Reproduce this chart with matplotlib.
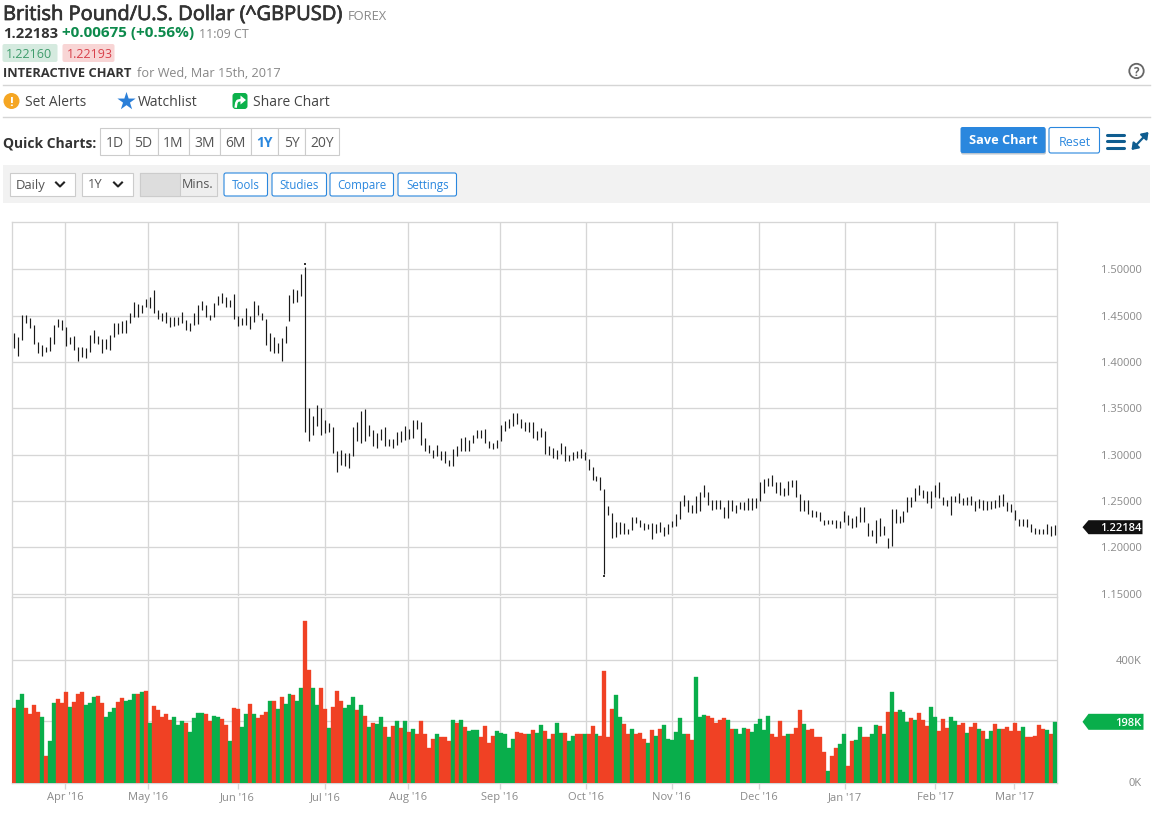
import matplotlib
matplotlib.use("Agg")
import matplotlib.pyplot as plt
from matplotlib.patches import Rectangle, FancyBboxPatch, Circle, Polygon, FancyArrowPatch
import matplotlib.patheffects as pe
import numpy as np

plt.rcParams["font.family"] = "Open Sans"

# ---------- data ----------
highs = [
1.431,1.4275,1.4505,1.451,1.447,1.440,1.422,1.4185,1.4167,1.4275,1.4404,1.4462,1.4454,1.4375,1.4275,1.4282,1.4167,1.416,1.4149,1.4289,
1.4347,1.4282,1.4253,1.4253,1.4289,1.4418,1.4418,1.444,1.4454,1.4526,1.4645,1.4627,1.4612,1.4677,1.4699,1.4777,1.4562,1.4526,1.4544,1.4483,
1.4483,1.4483,1.4541,1.4454,1.4418,1.4526,1.4616,1.4663,1.4616,1.4508,1.4641,1.4713,1.4742,1.4699,1.467,1.4734,1.4497,1.4472,1.4584,1.4497,
1.4655,1.4612,1.4526,1.4469,1.4311,1.4268,1.421,1.4261,1.439,1.4724,1.4785,1.4777,1.495,1.5028,
1.3503,1.342,1.3539,1.3503,1.3377,1.3341,1.3298,1.3036,1.3047,1.3018,1.3018,1.3295,1.3348,1.3467,1.3492,1.3323,1.3269,1.3234,1.3277,1.3295,
1.3169,1.3169,1.3241,1.3252,1.3305,1.3277,1.337,1.337,1.3348,1.318,1.3101,1.3047,1.3101,1.3036,1.3036,1.2946,1.3061,1.309,1.318,1.3191,
1.3162,1.3216,1.3269,1.3269,1.3277,1.3144,1.3126,1.3155,1.3323,1.3359,1.3384,1.3449,1.3449,1.3384,1.3348,1.3348,1.3348,1.3252,1.3287,1.3252,
1.309,1.3072,1.3054,1.3126,1.3097,1.3,1.3025,1.3036,1.3061,1.3025,1.2954,1.2867,1.2774,1.276,1.263,
1.2451,1.2372,1.2279,1.2279,1.2264,1.22,1.2329,1.2326,1.23,1.2264,1.2257,1.2264,1.2257,1.2279,1.2221,1.2257,1.2282,1.2365,1.2505,1.2566,
1.2509,1.2455,1.2559,1.2595,1.2674,1.2602,1.2516,1.2516,1.2509,1.2437,1.2509,1.2516,1.2462,1.2487,1.2494,1.2534,1.2534,1.2534,1.2702,1.2738,
1.2749,1.2781,1.2702,1.2702,1.2638,1.2713,1.2731,1.2731,1.2577,1.2509,1.2509,1.2408,1.2397,1.2387,1.23,1.23,1.23,1.23,1.2282,1.2394,
1.2354,1.2315,1.2343,1.2437,1.2437,1.2264,1.2193,1.23,1.2318,1.2236,1.2099,1.2419,1.2419,1.2343,1.239,1.2545,1.2545,1.2641,1.2677,1.2623,
1.2606,1.2606,1.2677,1.2702,1.2545,1.2516,1.2552,1.2559,1.2588,1.2534,1.2545,1.2559,1.2498,1.2523,1.2509,1.2498,1.2498,1.2516,1.257,1.258,
1.2487,1.2473,1.2408,1.2311,1.2311,1.2311,1.2257,1.2214,1.22,1.22,1.2257,1.2236,1.2247]
lows = [
1.415,1.406,1.424,1.442,1.4365,1.4195,1.4095,1.406,1.4113,1.4124,1.4196,1.4375,1.4347,1.4174,1.4196,1.4131,1.4016,1.4052,1.4049,1.4113,
1.4203,1.4196,1.4103,1.4138,1.4131,1.4275,1.4304,1.4311,1.4318,1.4418,1.4483,1.4483,1.4533,1.4591,1.458,1.4533,1.4469,1.4447,1.4418,1.4383,
1.439,1.4401,1.4418,1.4347,1.434,1.4397,1.4411,1.4562,1.449,1.4454,1.4483,1.4616,1.4634,1.4598,1.4598,1.4469,1.439,1.4401,1.4401,1.4361,
1.4436,1.4508,1.4454,1.4185,1.4124,1.4103,1.4095,1.4016,1.4203,1.4447,1.4634,1.4652,1.4713,1.3241,
1.3144,1.3216,1.3305,1.3216,1.3234,1.3241,1.3018,1.281,1.2893,1.2882,1.286,1.2982,1.3144,1.3126,1.3144,1.3198,1.309,1.3072,1.3155,1.309,
1.3097,1.3072,1.3108,1.3137,1.3162,1.3169,1.318,1.3277,1.3108,1.3036,1.3018,1.2964,1.2982,1.2946,1.291,1.2875,1.2875,1.2989,1.3036,1.3036,
1.3036,1.3126,1.318,1.318,1.3126,1.3072,1.3061,1.3072,1.3144,1.3252,1.3287,1.3305,1.3334,1.3287,1.3252,1.3241,1.318,1.3155,1.3191,1.3011,
1.3,1.2964,1.2957,1.3011,1.2928,1.2928,1.2946,1.2964,1.2964,1.2946,1.2839,1.2731,1.2713,1.2623,1.1715,
1.2354,1.2103,1.2114,1.2146,1.215,1.2146,1.2186,1.2264,1.2221,1.2193,1.22,1.2092,1.2157,1.2164,1.2121,1.215,1.2221,1.2229,1.2308,1.2451,
1.2387,1.2372,1.2372,1.239,1.2545,1.2462,1.2401,1.2415,1.2415,1.2318,1.2318,1.239,1.2372,1.2415,1.2408,1.2401,1.2401,1.2426,1.2501,1.2588,
1.2659,1.2667,1.2588,1.257,1.2559,1.257,1.2652,1.2545,1.239,1.239,1.2365,1.2326,1.2329,1.2282,1.2239,1.225,1.225,1.2214,1.2214,1.2272,
1.2247,1.2207,1.2221,1.2272,1.2272,1.2128,1.2121,1.2049,1.2121,1.2139,1.1992,1.202,1.2264,1.2264,1.2272,1.2379,1.2433,1.2498,1.257,1.253,
1.248,1.2426,1.2545,1.2534,1.2462,1.2444,1.2354,1.2487,1.248,1.2462,1.2455,1.2462,1.239,1.2426,1.2401,1.2401,1.2415,1.2426,1.2437,1.2451,
1.239,1.2379,1.2293,1.2236,1.2236,1.2221,1.2164,1.215,1.2142,1.2142,1.215,1.2121,1.2139]
# extreme ticks of the two spike bars: bar number, price
extreme_bars = [73, 148]
extreme_prices = [1.5058, 1.169]
volumes_k = [
243,268,288,243,223,252,230,214,86,137,260,273,260,295,247,263,288,295,252,260,
278,282,260,214,230,243,263,275,266,268,288,288,295,298,193,249,236,214,223,204,
214,188,200,193,165,211,227,227,223,200,216,214,207,188,137,243,239,182,223,255,
223,211,220,229,266,266,239,278,255,288,285,266,308,526,366,308,252,308,239,178,
247,298,266,243,252,278,236,252,216,182,195,191,214,182,147,185,200,178,200,165,
175,157,200,159,114,143,157,147,150,137,204,195,204,182,168,172,172,150,185,130,
153,168,162,159,111,143,165,162,159,159,172,162,188,168,143,159,195,162,162,134,
153,157,159,159,157,185,159,153,363,150,239,285,214,191,159,175,159,163,143,130,
172,153,175,188,143,140,165,211,159,157,140,343,214,221,217,211,195,204,211,204,
175,175,157,178,175,165,191,208,172,217,157,147,201,153,157,159,178,237,191,172,
175,147,150,101,36,88,111,124,159,55,137,140,182,150,150,157,188,185,159,230,
295,229,237,230,198,211,203,227,203,185,246,214,168,208,178,214,200,188,195,162,
182,195,175,168,143,168,191,175,175,182,168,195,168,182,147,150,153,188,175,172,
159,198]
volume_dirs = (
"RGGRRRRGRG" "GRRRGRRRGG" "GRRGGGRRGG" "GRGRGRRRRR" "GGGRGGGGRR" "GGRRGRRGGR"
"GRRRGRGRGG" "RGGRRGGRRG" "RRRGGGRGRG" "RGGRGRGRGR" "GRRRRRGRRR" "GRGRGGGRRR"
"RGGGGGRRRG" "RGGRGRGGRG" "GRRGRRGRRR" "RGGRRGRRRG" "RGRGGGGGGR" "RGGGRRRRRG"
"RGGGRGGGGG" "RRRRGRRRGR" "RRRRGRRGGR" "RGGRRGGRGR" "GRGGGRGRRR" "GGRRRGGRRG"
"RRGRGGRGRR" "RRRGRRRRRG" "RG")
month_labels = ["Apr '16","May '16","Jun '16","Jul '16","Aug '16","Sep '16","Oct '16","Nov '16","Dec '16","Jan '17","Feb '17","Mar '17"]
month_positions = [13.3,34.0,56.5,78.4,99.2,122.2,143.8,165.4,187.3,208.9,231.5,251.3]
price_ticks = [1.15,1.20,1.25,1.30,1.35,1.40,1.45,1.50]
volume_ticks = [0,200,400]
volume_tick_labels = ["0K","","400K"]
last_price = 1.22184
last_volume = 198

W, H = 1162, 816
fig = plt.figure(figsize=(W/100, H/100), dpi=100, facecolor="white")
def box(l, t, r, b):
    return [l/W, 1-b/H, (r-l)/W, (b-t)/H]

GRID = "#d6d6d6"; TXT = "#8a8a8a"
GREEN = "#09ae4b"; RED = "#f04124"
n = len(highs)
xs = np.arange(n) + 0.5
GRID_LW = 0.95

# price panel
ax = fig.add_axes(box(12.4, 222, 1057, 596))
ax.set_xlim(0, n)
ax.set_ylim(1.15-2.2*0.05/46.4, 1.50+47.4*0.05/46.4)
ax.vlines(xs, lows, highs, color="#1a1a1a", lw=0.85, zorder=3)
ax.scatter([xs[i] for i in extreme_bars], extreme_prices, marker="s", s=2.5, color="#333333", linewidths=0, zorder=3)
ax.set_xticks(month_positions); ax.set_xticklabels([])
ax.set_yticks(price_ticks)
ax.set_yticklabels([f"{v:.5f}" for v in price_ticks], color=TXT, fontsize=8)
ax.yaxis.tick_right()
ax.tick_params(axis="x", length=0)
ax.tick_params(axis="y", length=0, pad=85*0.72)
for t in ax.get_yticklabels():
    t.set_ha("right"); t.set_va("center_baseline")
ax.grid(True, color=GRID, lw=GRID_LW, zorder=0)
ax.set_axisbelow(True)
for s in ax.spines.values():
    s.set_color(GRID); s.set_linewidth(GRID_LW)
ax.spines["bottom"].set_visible(False)

# volume panel
vx = fig.add_axes(box(12.4, 597, 1057, 782.5))
vx.set_xlim(0, n)
vx.set_ylim(0, 185.5*200/61.3)
bar_colors = [GREEN if c == "G" else RED for c in volume_dirs]
vx.bar(xs, volumes_k, width=1.0, color=bar_colors, edgecolor=bar_colors, linewidth=0.25, zorder=3)
vx.set_xticks(month_positions)
vx.set_xticklabels(month_labels, color=TXT, fontsize=8)
vx.set_yticks(volume_ticks)
vx.set_yticklabels(volume_tick_labels, color=TXT, fontsize=8)
vx.yaxis.tick_right()
vx.tick_params(axis="x", length=4, width=GRID_LW, color=GRID, pad=3)
vx.tick_params(axis="y", length=0, pad=85*0.72)
for t in vx.get_yticklabels():
    t.set_ha("right"); t.set_va("center_baseline")
vx.grid(True, color=GRID, lw=GRID_LW, zorder=0)
vx.set_axisbelow(True)
for s in vx.spines.values():
    s.set_color(GRID); s.set_linewidth(GRID_LW)

# overlay in pixel coordinates for the page furniture
ov = fig.add_axes([0, 0, 1, 1], zorder=10)
ov.set_xlim(0.5, W+0.5); ov.set_ylim(H, 0); ov.axis("off")
ov.patch.set_alpha(0)

def rect(l, t, r, b, fc="white", ec="none", lw=0.8, z=1):
    ov.add_patch(Rectangle((l, t), r-l, b-t, facecolor=fc, edgecolor=ec, linewidth=lw, zorder=z))
def rrect(l, t, r, b, fc="white", ec="none", lw=0.8, rad=2, z=1):
    ov.add_patch(FancyBboxPatch((l+rad, t+rad), r-l-2*rad, b-t-2*rad, boxstyle=f"round,pad={rad},rounding_size={rad}",
                                facecolor=fc, edgecolor=ec, linewidth=lw, zorder=z))
def text(x, y, s, size, color="#333333", weight="normal", ha="left", z=5, stroke=0):
    t = ov.text(x, y, s, fontsize=size, color=color, fontweight=weight, ha=ha, va="center_baseline", zorder=z)
    if stroke:
        t.set_path_effects([pe.withStroke(linewidth=stroke, foreground=color)])
    return t

DARK = "#333333"; GREY = "#888888"; BLUE = "#2a87de"
text(3.5, 12.5, "British Pound/U.S. Dollar (^GBPUSD)", 14.45, DARK, stroke=0.55)
text(348, 15, "FOREX", 9.3, GREY)
text(3.5, 32, "1.22183", 10.6, DARK, "bold")
text(62.5, 32, "+0.00675 (+0.56%)", 11, "#0d8a4c", "bold")
text(199.5, 33, "11:09 CT", 9, GREY)
rrect(3, 44, 58, 62, fc="#d5eadf"); text(6.5, 53, "1.22160", 9, "#3f9c6c")
rrect(63, 44, 115, 62, fc="#f8d5d5"); text(67.5, 53, "1.22193", 9, "#d8404a")
text(3.5, 72, "INTERACTIVE CHART", 9.3, DARK, "bold")
text(137.5, 72, "for Wed, Mar 15th, 2017", 9.2, GREY)
ov.add_patch(Circle((1137, 71), 7.2, fc="white", ec="#666666", lw=1.3, zorder=3))
text(1137, 71, "?", 8.5, "#666666", "bold", ha="center")
for y in (84.5, 116.5):
    ov.plot([3, 1150], [y, y], color="#d5d5d5", lw=1.0, zorder=1)

ov.add_patch(Circle((12, 101), 8, fc="#f5a623", ec="none", zorder=3))
text(12, 101, "!", 9.5, "white", "bold", ha="center")
text(25.5, 101, "Set Alerts", 10, "#444444")
ov.scatter([126], [101], marker="*", s=190, color="#2b7fd8", zorder=3, linewidths=0)
text(138.5, 101, "Watchlist", 10.1, "#444444")
rrect(233, 93, 248, 109, fc="#0cb14b", rad=3, z=3)
ov.add_patch(Polygon([(241, 95.5), (246.5, 100), (241, 104.5)], fc="white", ec="none", zorder=4))
ov.plot([236.3, 236.8, 238, 241.5], [106.5, 103, 100.8, 100], color="white", lw=1.8, zorder=4)
text(253.5, 101, "Share Chart", 10, "#444444")

text(3.5, 141.5, "Quick Charts:", 10, DARK, "bold")
qc_edges = [100.5, 129.5, 158.5, 189.5, 220.5, 251.5, 278.5, 305.5, 339.5]
qc_labels = ["1D","5D","1M","3M","6M","1Y","5Y","20Y"]
for i, lab in enumerate(qc_labels):
    rect(qc_edges[i], 127.5, qc_edges[i+1], 154.5, fc="white", ec="#cccccc")
    active = lab == "1Y"
    text((qc_edges[i]+qc_edges[i+1])/2, 141.5, lab, 10, BLUE if active else "#555555", "bold" if active else "normal", ha="center")

rrect(961.5, 128, 1046.5, 154.5, fc="#b9c4cf", rad=2)
rrect(961, 127, 1046, 153, fc=BLUE, rad=2, z=2)
text(1003.5, 139.5, "Save Chart", 9.2, "white", "bold", ha="center")
rrect(1049.5, 127.5, 1100, 153, fc="white", ec=BLUE, rad=2)
text(1075, 140.5, "Reset", 9, BLUE, ha="center")
for y in (134.5, 141, 147.5):
    ov.plot([1107.5, 1124.5], [y, y], color="#0f5d90", lw=2.2, solid_capstyle="round", zorder=3)
ov.add_patch(FancyArrowPatch((1132, 150), (1149, 132), arrowstyle="<|-|>,head_width=2.6,head_length=3.6", color="#0f5d90", lw=1.6, shrinkA=0, shrinkB=0, zorder=3))

rect(3, 165, 1150, 203, fc="#f2f2f2")
rect(10.5, 172.5, 75, 196, fc="white", ec="#cccccc", z=2)
text(16, 183.5, "Daily", 9.4, "#555555", z=5)
rect(82.5, 172.5, 133, 196, fc="white", ec="#cccccc", z=2)
text(88, 183.5, "1Y", 9.4, "#555555", z=5)
for cx in (60.5, 118.5):
    ov.plot([cx-4, cx, cx+4], [182.5, 186.5, 182.5], color="#222222", lw=1.5, zorder=5)
rect(140.5, 172.5, 217, 196, fc="#eeeeee", ec="#cccccc", z=2)
rect(140.5, 172.5, 180, 196, fc="#dddddd", ec="#cccccc", z=2)
text(182, 183.5, "Mins.", 9, "#555555", z=5)
for l, r, lab in [(224.5, 268, "Tools"), (272.5, 327, "Studies"), (330.5, 394, "Compare"), (398.5, 457, "Settings")]:
    rrect(l, 173, r, 196, fc="white", ec=BLUE, rad=2, z=2)
    text((l+r)/2, 184, lab, 8.3, BLUE, ha="center", z=5)

def to_py(axes, val):
    return H - axes.transData.transform((0, val))[1]

# last-value tags
yp = to_py(ax, last_price)
ov.add_patch(Polygon([(1083, yp), (1089, yp-7), (1143, yp-7), (1143, yp+7), (1089, yp+7)], fc="#111111", ec="none", zorder=4))
text(1142, yp, f"{last_price:.5f}", 8, "white", "semibold", ha="right")
yv = to_py(vx, last_volume)
ov.add_patch(Polygon([(1083, yv), (1089, yv-8), (1144, yv-8), (1144, yv+8), (1089, yv+8)], fc=GREEN, ec="none", zorder=4))
text(1142, yv, f"{last_volume}K", 8, "white", "semibold", ha="right")

fig.savefig("out.png", dpi=100)
